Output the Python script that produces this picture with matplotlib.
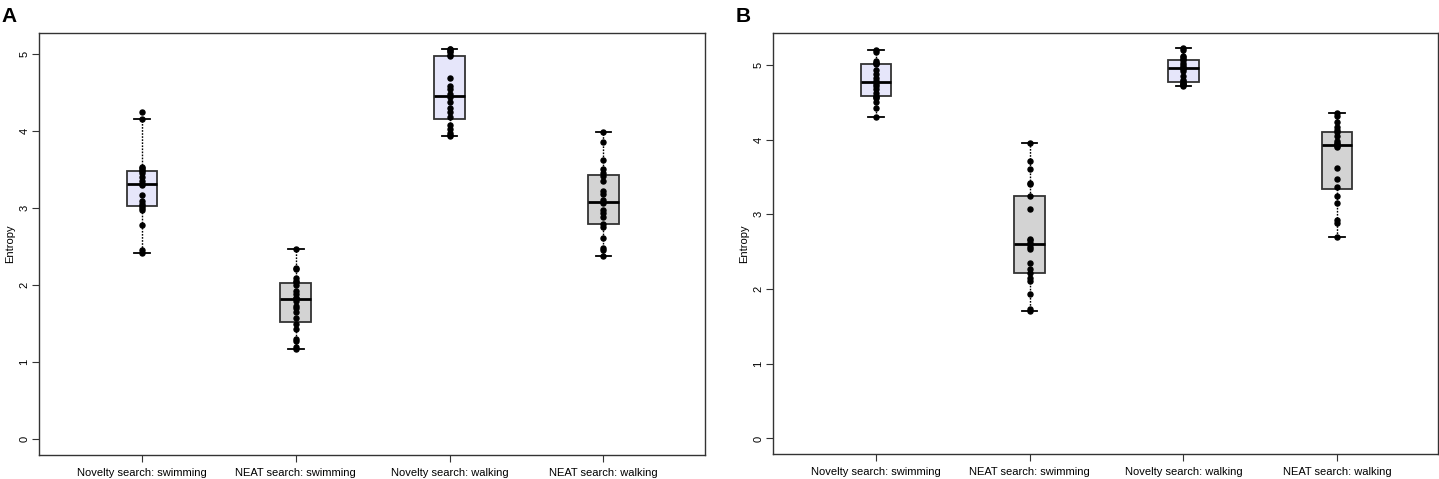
import numpy as np
import matplotlib
matplotlib.use("Agg")
import matplotlib.pyplot as plt

plt.rcParams['font.family'] = ['Liberation Sans', 'DejaVu Sans']

categories = ["Novelty search: swimming", "NEAT search: swimming",
              "Novelty search: walking", "NEAT search: walking"]
box_colors = ["#E6E6FA", "#D3D3D3", "#E6E6FA", "#D3D3D3"]

# panel A: entropy values per run
a_novelty_swim = [2.42, 2.46, 2.78, 2.98, 3.00, 3.03, 3.06, 3.09, 3.17, 3.30,
                  3.32, 3.35, 3.40, 3.45, 3.48, 3.50, 3.52, 3.54, 4.16, 4.25]
a_neat_swim = [1.17, 1.20, 1.27, 1.30, 1.43, 1.50, 1.58, 1.65, 1.70, 1.73, 1.80,
               1.84, 1.83, 1.88, 1.93, 2.00, 2.04, 2.06, 2.10, 2.21, 2.23, 2.47]
a_novelty_walk = [3.93, 3.95, 3.98, 4.03, 4.08, 4.18, 4.25, 4.30, 4.38, 4.44,
                  4.48, 4.54, 4.58, 4.69, 4.97, 4.99, 5.02, 5.04, 5.06, 5.07]
a_neat_walk = [2.38, 2.46, 2.48, 2.61, 2.76, 2.80, 2.89, 2.94, 2.98, 3.07,
               3.10, 3.19, 3.22, 3.35, 3.42, 3.46, 3.51, 3.62, 3.86, 3.99]

# panel B
b_novelty_swim = [4.30, 4.42, 4.50, 4.55, 4.57, 4.58, 4.63, 4.68, 4.72, 4.75,
                  4.78, 4.83, 4.88, 4.93, 5.01, 5.02, 5.03, 5.05, 5.17, 5.20]
b_neat_swim = [1.71, 1.73, 1.94, 2.11, 2.15, 2.22, 2.27, 2.35, 2.53, 2.56, 2.60,
               2.62, 2.65, 2.67, 3.07, 3.24, 3.40, 3.42, 3.61, 3.72, 3.96]
b_novelty_walk = [4.72, 4.73, 4.74, 4.75, 4.76, 4.78, 4.80, 4.85, 4.92, 4.95,
                  4.96, 4.97, 5.00, 5.03, 5.06, 5.08, 5.10, 5.12, 5.20, 5.22]
b_neat_walk = [2.69, 2.89, 2.93, 3.15, 3.25, 3.36, 3.47, 3.62, 3.90, 3.92,
               3.94, 3.96, 3.98, 4.05, 4.10, 4.13, 4.17, 4.24, 4.31, 4.35]

panel_a = [a_novelty_swim, a_neat_swim, a_novelty_walk, a_neat_walk]
panel_b = [b_novelty_swim, b_neat_swim, b_novelty_walk, b_neat_walk]

fig = plt.figure(figsize=(14.39, 4.79), dpi=100)
ax_a = fig.add_axes([0.0271, 0.0501, 0.4628, 0.8810])
ax_b = fig.add_axes([0.5372, 0.0520, 0.4624, 0.8795])


def draw_panel(ax, groups, letter):
    pos = np.arange(1, len(groups) + 1)
    bp = ax.boxplot(groups, positions=pos, widths=0.2, whis=1.5,
                    showfliers=False, patch_artist=True,
                    boxprops=dict(edgecolor="#333333", linewidth=1.3),
                    medianprops=dict(color="black", linewidth=2.0),
                    whiskerprops=dict(color="black", linewidth=1.0,
                                      linestyle=(0, (1.2, 1.0))),
                    capprops=dict(color="black", linewidth=1.3))
    for patch, c in zip(bp["boxes"], box_colors):
        patch.set_facecolor(c)
    for p, g in zip(pos, groups):
        ax.plot([p] * len(g), g, "o", color="black", ms=3.6, zorder=3)

    top = max(max(g) for g in groups)
    ax.set_ylim(-0.04 * top, top * 1.04)
    ax.set_xlim(0.33, 4.66)
    ax.set_yticks([0, 1, 2, 3, 4, 5])
    ax.set_yticklabels(["0", "1", "2", "3", "4", "5"], rotation=90,
                       va="center", fontsize=8)
    ax.set_xticks(pos)
    ax.set_xticklabels(categories, fontsize=8)
    ax.tick_params(axis="both", length=5, width=0.8, color="#333333")
    ax.tick_params(axis="x", pad=4)
    ax.tick_params(axis="y", pad=2)
    ax.set_ylabel("Entropy", fontsize=8, labelpad=3)
    for s in ax.spines.values():
        s.set_color("#333333")
        s.set_linewidth(1.0)
    bb = ax.get_position()
    fig.text(bb.x0 - 0.026, 0.985, letter, fontsize=15, fontweight="bold",
             va="top", ha="left")


draw_panel(ax_a, panel_a, "A")
draw_panel(ax_b, panel_b, "B")

fig.savefig("out.png", dpi=100)
